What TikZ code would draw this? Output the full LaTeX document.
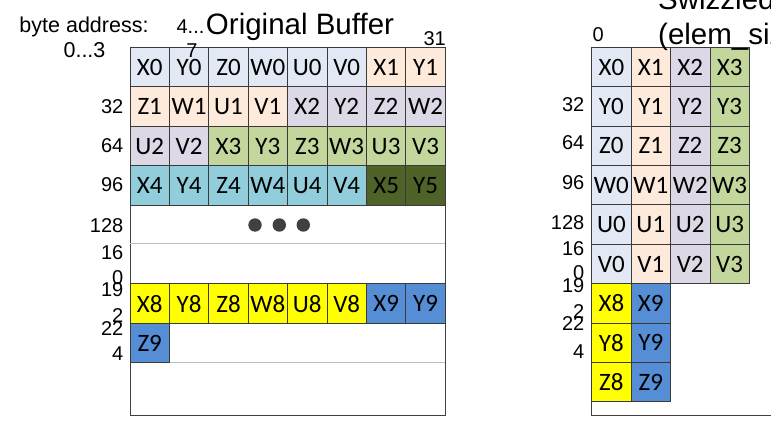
\documentclass[tikz,border=0pt]{standalone}
\usepackage{fontspec}
\setmainfont{Liberation Sans}
\newfontfamily\cellfont{Carlito}
\usepackage{xcolor}
\usepackage{tikz}

\definecolor{bufA}{HTML}{E3E9F4}
\definecolor{bufB}{HTML}{FDEADA}
\definecolor{bufC}{HTML}{DDD8E6}
\definecolor{bufD}{HTML}{C3D69B}
\definecolor{bufE}{HTML}{92CDDC}
\definecolor{bufF}{HTML}{4F6228}
\definecolor{bufY}{HTML}{FFFF00}
\definecolor{bufG}{HTML}{558ED5}
\definecolor{cellline}{HTML}{3A3A3A}
\definecolor{frameline}{HTML}{404040}
\definecolor{gapline}{HTML}{BFBFBF}
\definecolor{dotc}{HTML}{404040}

\tikzstyle{cell} = [rectangle, minimum width=39.4pt, minimum height=39.4pt, inner sep=0pt, draw=cellline, line width=0.8pt, text=black, font=\cellfont\fontsize{25}{30}\selectfont]
\tikzstyle{addr} = [anchor=base east, inner sep=0pt, font=\fontsize{20}{24}\selectfont]
\tikzstyle{note} = [anchor=base, inner sep=0pt, font=\fontsize{20}{24}\selectfont]
\tikzstyle{title} = [inner sep=0pt, font=\fontsize{29.5}{34}\selectfont]
\tikzstyle{frame} = [draw=frameline, line width=1pt]
\tikzstyle{gap} = [draw=gapline, line width=1pt]

\begin{document}
\begin{tikzpicture}[x=1pt, y=-1pt]
			
			\useasboundingbox (0,0) rectangle (771,427);
			\clip (0,0) rectangle (771,427);
			\fill[white] (0,0) rectangle (771,427);
			
			% original buffer
			\draw[frame] (130,47.5) rectangle (445.2,415);
			\draw[gap] (130,244) -- (445.2,244);
			\draw[gap] (130,362.7) -- (445.2,362.7);
			
			\foreach \t/\c [count=\i from 0] in {X0/bufA,Y0/bufA,Z0/bufA,W0/bufA,U0/bufA,V0/bufA,X1/bufB,Y1/bufB}
				\node[cell, fill=\c] (o0\i) at (149.7+39.4*\i, 67.2) {\t};
			\foreach \t/\c [count=\i from 0] in {Z1/bufB,W1/bufB,U1/bufB,V1/bufB,X2/bufC,Y2/bufC,Z2/bufC,W2/bufC}
				\node[cell, fill=\c] (o1\i) at (149.7+39.4*\i, 106.6) {\t};
			\foreach \t/\c [count=\i from 0] in {U2/bufC,V2/bufC,X3/bufD,Y3/bufD,Z3/bufD,W3/bufD,U3/bufD,V3/bufD}
				\node[cell, fill=\c] (o2\i) at (149.7+39.4*\i, 146) {\t};
			\foreach \t/\c [count=\i from 0] in {X4/bufE,Y4/bufE,Z4/bufE,W4/bufE,U4/bufE,V4/bufE,X5/bufF,Y5/bufF}
				\node[cell, fill=\c] (o3\i) at (149.7+39.4*\i, 185.4) {\t};
			\foreach \t/\c [count=\i from 0] in {X8/bufY,Y8/bufY,Z8/bufY,W8/bufY,U8/bufY,V8/bufY,X9/bufG,Y9/bufG}
				\node[cell, fill=\c] (o6\i) at (149.7+39.4*\i, 303.6) {\t};
			\node[cell, fill=bufG] (o70) at (149.7, 343) {Z9};
			
			\foreach \x in {255,279.3,303.3}
				\fill[dotc] (\x,225) circle (6.7pt);
			
			\node[title, anchor=base] (orig) at (300,35) {Original Buffer};
			\node[note, font=\fontsize{21.5}{26}\selectfont] (byte) at (84,33) {byte address:};
			\node[note, font=\fontsize{21.5}{26}\selectfont] (first) at (84.5,58) {0...3};
			\node[note] (next) at (190.5,34) {4...};
			\node[note] (nextb) at (192,58) {7};
			\node[addr] (last) at (446,46) {31};
			
			\foreach \t/\y in {32/113.5,64/152.8,96/192,128/233,16/259.7,0/285,19/297,2/322.7,22/336,4/361}
				\node[addr] (l\t) at (123.5,\y) {\t};
			
			% swizzled buffer
			\draw[frame] (800,415) -| (591.7,47.3);
			
			\foreach \l [count=\r from 0] in {X,Y,Z,W,U,V}
				\foreach \c [count=\k from 0] in {bufA,bufB,bufC,bufD}
					\node[cell, fill=\c] (s\r\k) at (611.4+39.4*\k, 67+39.4*\r) {\l\k};
			\foreach \l [count=\r from 6] in {X,Y,Z} {
				\node[cell, fill=bufY] (s\r0) at (611.4, 67+39.4*\r) {\l8};
				\node[cell, fill=bufG] (s\r1) at (650.8, 67+39.4*\r) {\l9};
			}
			
			\node[title, anchor=base west] (swz) at (658,10) {Swizzled};
			\node[title, anchor=base west] (elem) at (658,45) {(elem\_size};
			\node[note, anchor=base west] (zero) at (592.5,42) {0};
			
			\foreach \t/\y in {32/112,64/149.7,96/190,128/230,16/256,0/280,19/293,2/319,22/331,4/359}
				\node[addr] (r\t) at (584.5,\y) {\t};
			
		\end{tikzpicture}
\end{document}
